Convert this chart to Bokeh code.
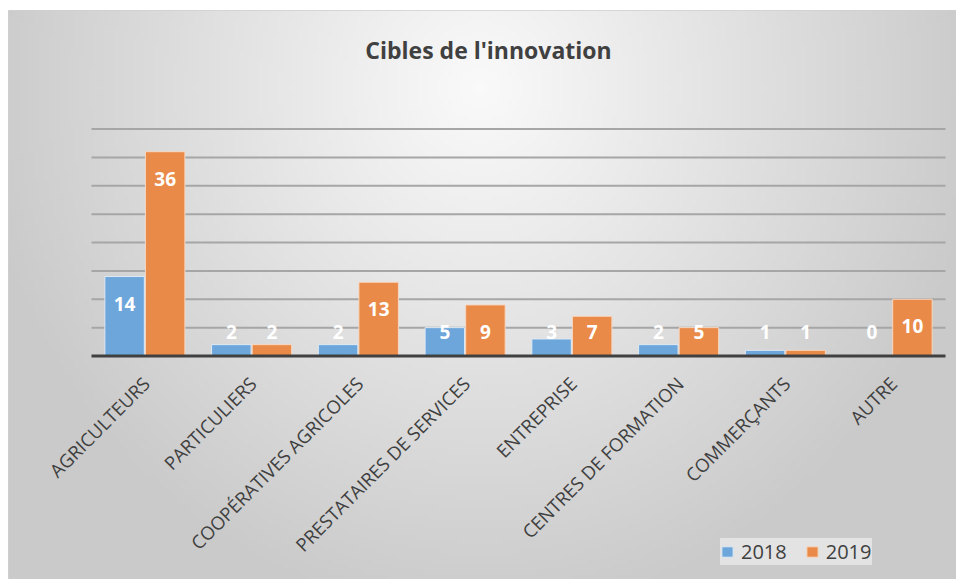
import numpy as np
from bokeh.plotting import figure
from bokeh.models import ColumnDataSource, Legend, LegendItem, Spacer
from bokeh.layouts import row, column
from bokeh.core.properties import value
from bokeh.embed import file_html
from bokeh.resources import INLINE

categories = ["AGRICULTEURS", "PARTICULIERS", "COOPÉRATIVES AGRICOLES",
              "PRESTATAIRES DE SERVICES", "ENTREPRISE", "CENTRES DE FORMATION",
              "COMMERÇANTS", "AUTRE"]
v2018 = [14, 2, 2, 5, 3, 2, 1, 0]
v2019 = [36, 2, 13, 9, 7, 5, 1, 10]
series = ["2018", "2019"]
gridlines = [5, 10, 15, 20, 25, 30, 35, 40]
title_text = "Cibles de l'innovation"

BLUE = "#6CA6DB"
ORANGE = "#EA8A48"
TXT = "#404040"

# layout geometry (pixels)
W, H = 948, 569
PX_X = 106.75          # pixels per category
PX_Y = 5.675           # pixels per unit
LEFT = 83              # frame-left to first category
TOP = 118.5            # figure top to value 40
x0 = -LEFT / PX_X
x1 = x0 + W / PX_X
y1 = 40 + TOP / PX_Y
y0 = y1 - H / PX_Y

n = len(categories)
idx = np.arange(n) + 0.5
OFF = 0.19

def label_y(vals):
    return [max(v - 4.8, 4.2) for v in vals]

src = ColumnDataSource(dict(
    xa=idx - OFF, xb=idx + OFF, xl=idx + 0.01, yl=[-24 / PX_Y] * n,
    cat=categories, a=v2018, b=v2019,
    ta=[str(v) for v in v2018], tb=[str(v) for v in v2019],
    ya=label_y(v2018), yb=label_y(v2019),
))

p = figure(x_range=(x0, x1), y_range=(y0, y1), width=W, height=H,
           output_backend="svg", toolbar_location=None,
           min_border=0, min_border_left=0, min_border_right=0,
           min_border_top=0, min_border_bottom=0)
p.axis.visible = False
p.grid.visible = False
p.outline_line_color = "#d0d0d0"
p.background_fill_color = "#e3e3e3"
p.border_fill_color = "#e3e3e3"

# radial background shading
gy, gx = np.mgrid[0:114, 0:190]
cx, cy = 94, 98           # centre near top middle (image rows from bottom)
r = np.sqrt(((gx - cx) / 95.0) ** 2 + ((gy - cy) / 100.0) ** 2)
r = np.clip(r, 0, 1.05)
g = (250 - 45 * r).astype(np.uint8)
img = np.empty((114, 190), dtype=np.uint32)
view = img.view(dtype=np.uint8).reshape((114, 190, 4))
view[:, :, 0] = g
view[:, :, 1] = g
view[:, :, 2] = g
view[:, :, 3] = 255
p.image_rgba(image=[img], x=x0, y=y0, dw=x1 - x0, dh=y1 - y0)

# gridlines and baseline
p.segment(x0=[0] * len(gridlines), x1=[n] * len(gridlines), y0=gridlines, y1=gridlines,
          line_color="#a6a6a6", line_width=2)

r1 = p.vbar(x="xa", top="a", width=0.37, source=src,
            fill_color=BLUE, line_color="#dfe9f3", line_width=1)
r2 = p.vbar(x="xb", top="b", width=0.37, source=src,
            fill_color=ORANGE, line_color="#f6d8c2", line_width=1)

p.segment(x0=[0], x1=[n], y0=[0], y1=[0], line_color=TXT, line_width=3)

for xcol, col, ycol in (("xa", "ta", "ya"), ("xb", "tb", "yb")):
    p.text(x=xcol, y=ycol, text=col, source=src,
           text_color="white", text_font=value("Open Sans"), text_font_style="bold",
           text_font_size="19px", text_align="center", text_baseline="middle")

# category labels
p.text(x="xl", y="yl", text="cat", source=src, angle=np.pi / 4,
       text_color=TXT, text_font=value("Open Sans"), text_font_size="18.5px",
       text_align="right", text_baseline="middle")

# title
p.text(x=[(488 - 91) / PX_X], y=[(355.5 - 49) / PX_Y], text=[title_text],
       text_color=TXT, text_font=value("Open Sans"), text_font_style="bold",
       text_font_size="23px", text_align="center", text_baseline="middle")

legend = Legend(items=[LegendItem(label=series[0], renderers=[r1]),
                       LegendItem(label=series[1], renderers=[r2])],
                orientation="horizontal", location=(712, 14))
legend.label_text_font = "Open Sans"
legend.label_text_font_size = "20px"
legend.label_text_color = TXT
legend.label_height = 22
legend.glyph_width = 14
legend.glyph_height = 13
legend.label_standoff = 7
legend.background_fill_color = "#e6e6e6"
legend.background_fill_alpha = 0.9
legend.border_line_color = None
legend.spacing = 18
legend.padding = 16
legend.margin = 0
p.add_layout(legend, "center")

layout = row(Spacer(width=8), column(Spacer(height=10), p))
open("out.html", "w").write(file_html(layout, INLINE))
